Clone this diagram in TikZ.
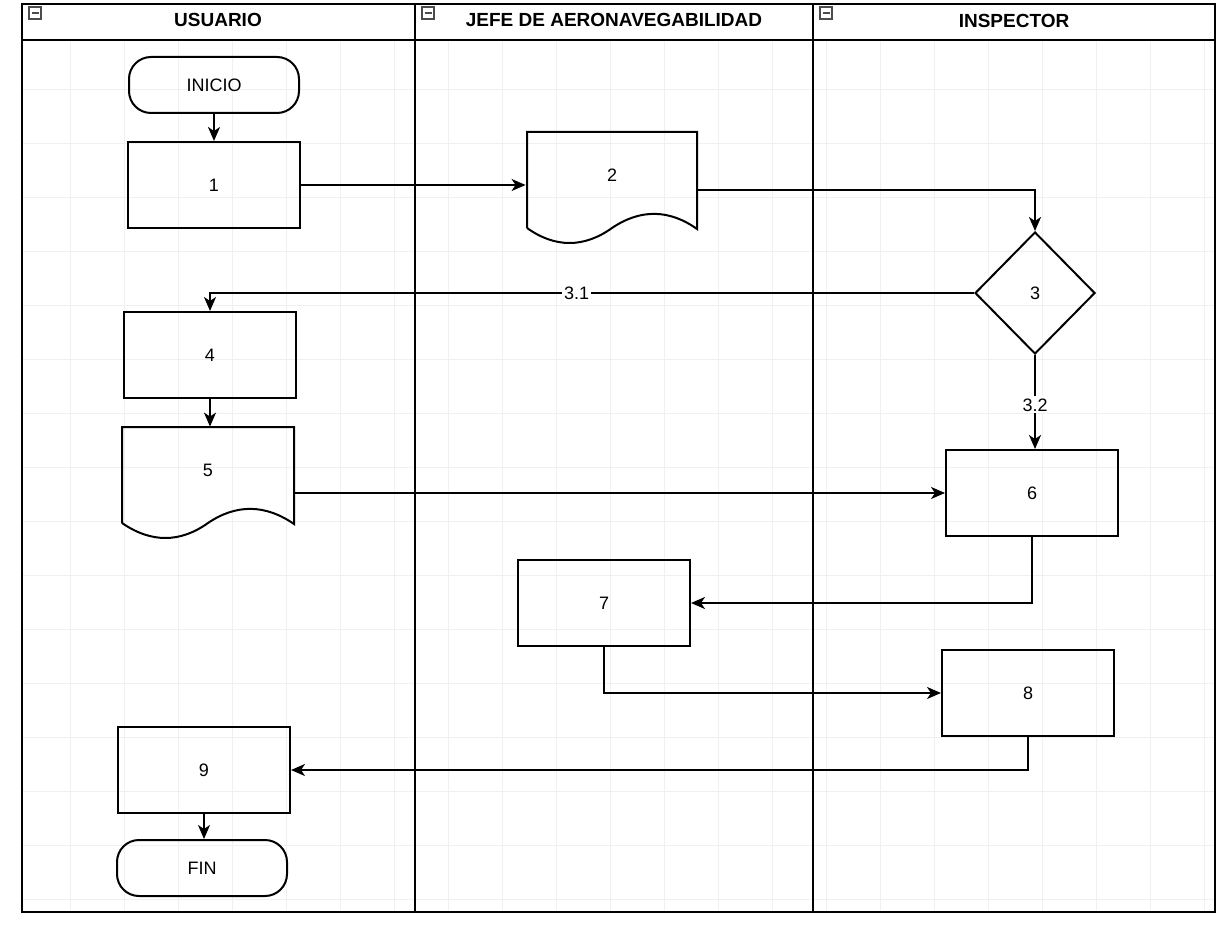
\documentclass[tikz,border=0pt]{standalone}
\usepackage{fontspec}
\setmainfont{Liberation Sans}
\usetikzlibrary{shapes.geometric,arrows.meta}
\begin{document}
\begin{tikzpicture}[x=0.5pt,y=-0.5pt,
  lbl/.style={font=\fontsize{9}{10}\selectfont},
  hdr/.style={font=\bfseries\fontsize{9.5}{11}\selectfont},
  procbox/.style={draw,line width=1pt,minimum width=86pt,minimum height=43pt,inner sep=0pt,lbl},
  termbox/.style={draw,line width=1pt,rounded corners=11pt,minimum width=85pt,minimum height=28pt,inner sep=0pt,lbl},
  docbox/.style={minimum width=86pt,minimum height=48pt,inner sep=0pt,lbl},
  decbox/.style={draw,line width=1pt,diamond,aspect=1,minimum width=60pt,minimum height=61pt,inner sep=0pt,lbl},
  docline/.style={line width=1pt},
  flow/.style={line width=1pt,-{Stealth[length=7pt,width=6pt,inset=2pt]}},
  edgelbl/.style={fill=white,inner sep=1pt,lbl},
  frameline/.style={line width=1.2pt},
  gridline/.style={black!6,line width=0.4pt}
]
\useasboundingbox (0,0) rectangle (1225,930);
\fill[white] (0,0) rectangle (1225,930);
% faint background grid
\foreach \x in {70,124,...,1215} \draw[gridline] (\x,40) -- (\x,912);
\foreach \y in {89,143,...,912} \draw[gridline] (22,\y) -- (1215,\y);
% swimlane frame
\draw[frameline] (22,4) rectangle (1215,912);
\draw[frameline] (22,40) -- (1215,40);
\draw[frameline] (415,4) -- (415,912);
\draw[frameline] (813,4) -- (813,912);
\node[hdr] (hu) at (218,20) {USUARIO};
\node[hdr] (hj) at (614,20) {JEFE DE AERONAVEGABILIDAD};
\node[hdr] (hi) at (1014,21) {INSPECTOR};
\foreach \ix in {35,428,826} {
  \draw[black!70,line width=0.6pt] (\ix-6,7) rectangle (\ix+6,19);
  \draw[black!70,line width=0.7pt] (\ix-3.5,13) -- (\ix+3.5,13);
}
% nodes
\node[termbox] (inicio) at (214,85) {INICIO};
\node[procbox] (n1) at (214,185) {1};
\node[docbox] (n2) at (612,180) {\raisebox{5pt}{2}};
\draw[docline,shift={(n2.center)}] (-85,48) -- (-85,-48) -- (85,-48) -- (85,49)
  .. controls (57,29) and (28,29) .. (0,48) .. controls (-28,68) and (-57,68) .. (-85,48);
\node[decbox] (n3) at (1035,293) {3};
\node[procbox] (n4) at (210,355) {4};
\node[docbox] (n5) at (208,475) {\raisebox{5pt}{5}};
\draw[docline,shift={(n5.center)}] (-86,48) -- (-86,-48) -- (86,-48) -- (86,49)
  .. controls (57,29) and (28,29) .. (0,48) .. controls (-28,68) and (-57,68) .. (-86,48);
\node[procbox] (n6) at (1032,493) {6};
\node[procbox] (n7) at (604,603) {7};
\node[procbox] (n8) at (1028,693) {8};
\node[procbox] (n9) at (204,770) {9};
\node[termbox] (fin) at (202,868) {FIN};
% connectors
\draw[flow] (inicio.south) -- (inicio.south |- n1.north);
\draw[flow] (n1.east) -- (n1.east -| n2.west);
\draw[flow] ([yshift=-5pt]n2.east) -| (n3.north);
\draw[flow] (n3.west) -| node[edgelbl,pos=0.26] {3.1} (n4.north);
\draw[flow] (n4.south) -- (n4.south |- n5.north);
\draw[flow] (n3.south) -- node[edgelbl,pos=0.53] {3.2} (n3.south |- n6.north);
\draw[flow] (n5.east |- n6.west) -- (n6.west);
\draw[flow] (n6.south) |- (n7.east);
\draw[flow] (n7.south) |- (n8.west);
\draw[flow] (n8.south) |- (n9.east);
\draw[flow] (n9.south) -- (n9.south |- fin.north);
\end{tikzpicture}
\end{document}
